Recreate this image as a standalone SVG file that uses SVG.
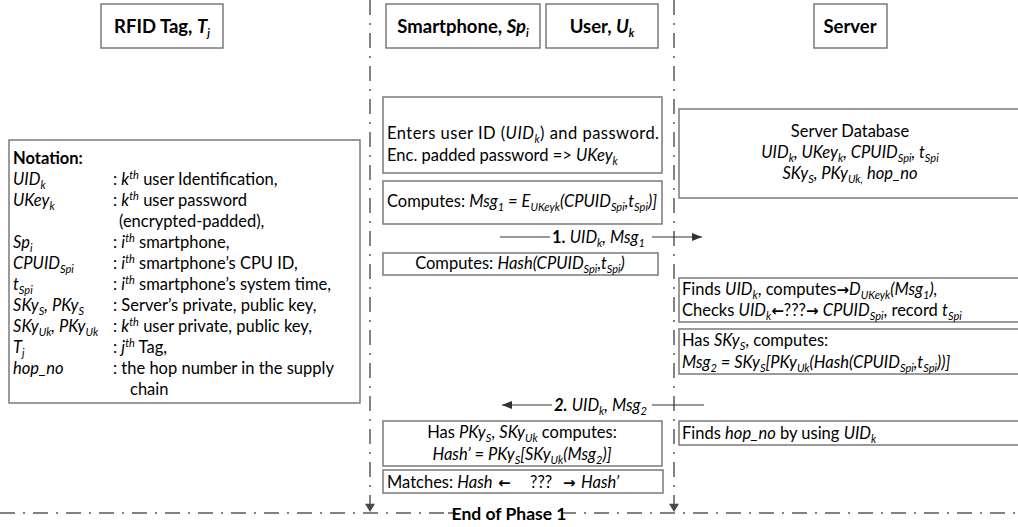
<svg xmlns="http://www.w3.org/2000/svg" width="1018" height="527" viewBox="0 0 1018 527">
  <style>
    text { font-family: Lato, "Liberation Sans", sans-serif; font-size: 16.5px; fill: #000; }
    .hd { font-size: 18.5px; font-weight: bold; }
    .i { font-style: italic; }
    .b { font-weight: bold; }
    .sb { font-size: 11px; baseline-shift: -3.5px; }
    .sp { font-size: 11px; baseline-shift: 6.5px; font-style: italic; }
    .ar { font-family: "DejaVu Sans", sans-serif; font-weight: bold; font-size: 15px; }
    .box { fill: #fff; stroke: #7a7a7a; stroke-width: 1.5; }
    .life { fill: none; stroke: #5a5a5a; stroke-width: 1.5; stroke-dasharray: 15 8 2 8; }
    .msg { fill: none; stroke: #333; stroke-width: 1.2; }
    .mid { text-anchor: middle; }
  </style>
  <defs>
    <marker id="head" viewBox="0 0 10 8" refX="10" refY="4" markerWidth="10" markerHeight="8" markerUnits="userSpaceOnUse" orient="auto">
      <path d="M0,0 L10,4 L0,8 z" fill="#333"/>
    </marker>
    <marker id="lifehead" viewBox="0 0 10 12" refX="10" refY="6" markerWidth="12" markerHeight="10" markerUnits="userSpaceOnUse" orient="auto">
      <path d="M0,0 L10,6 L0,12 z" fill="#4a4a4a"/>
    </marker>
  </defs>

  <rect width="1018" height="527" fill="#fff"/>

  <!-- connectors: lifelines and messages -->
  <g id="connectors">
    <line class="life" x1="370" y1="0" x2="370" y2="512" marker-end="url(#lifehead)"/>
    <line class="life" x1="674" y1="0" x2="674" y2="512" marker-end="url(#lifehead)"/>
    <g id="msg1">
      <line class="msg" x1="500" y1="237" x2="702" y2="237" marker-end="url(#head)"/>
      <rect x="550" y="228" width="102" height="17" fill="#fff"/>
      <text x="552" y="243"><tspan class="b">1.</tspan> <tspan class="i">UID<tspan class="sb">k</tspan>, Msg<tspan class="sb">1</tspan></tspan></text>
    </g>
    <g id="msg2">
      <line class="msg" x1="704" y1="405" x2="502" y2="405" marker-end="url(#head)"/>
      <rect x="552" y="396" width="100" height="17" fill="#fff"/>
      <text x="554" y="411"><tspan class="b i">2.</tspan> <tspan class="i">UID<tspan class="sb">k</tspan>, Msg<tspan class="sb">2</tspan></tspan></text>
    </g>
  </g>

  <!-- end-of-phase divider -->
  <g id="phase-end">
    <line class="life" x1="0" y1="513" x2="1018" y2="513"/>
    <rect x="448" y="503" width="122" height="22" fill="#fff"/>
    <line x1="448" y1="513" x2="456" y2="513" stroke="#5a5a5a" stroke-width="1.5"/>
    <line x1="562" y1="513" x2="570" y2="513" stroke="#5a5a5a" stroke-width="1.5"/>
    <text class="mid b" x="509" y="520" style="font-size:17.5px">End of Phase 1</text>
  </g>

  <!-- lane headers -->
  <g id="hdr-tag">
    <rect class="box" x="101" y="4" width="122" height="44"/>
    <text class="hd mid" x="162" y="33">RFID Tag, <tspan class="i">T<tspan class="sb">j</tspan></tspan></text>
  </g>
  <g id="hdr-phone">
    <rect class="box" x="386" y="4" width="154" height="44"/>
    <text class="hd mid" x="463" y="33">Smartphone, <tspan class="i">Sp<tspan class="sb">i</tspan></tspan></text>
  </g>
  <g id="hdr-user">
    <rect class="box" x="546" y="4" width="112" height="44"/>
    <text class="hd mid" x="602" y="33">User, <tspan class="i">U<tspan class="sb">k</tspan></tspan></text>
  </g>
  <g id="hdr-server">
    <rect class="box" x="814" y="4" width="73" height="44"/>
    <text class="hd mid" x="850" y="33">Server</text>
  </g>

  <!-- notation legend -->
  <g id="notation">
    <rect class="box" x="9" y="140" width="351" height="263"/>
    <text class="b" x="13" y="164">Notation:</text>
    <text x="13" y="185"><tspan class="i">UID<tspan class="sb">k</tspan></tspan><tspan x="113">: <tspan class="i">k</tspan><tspan class="sp">th</tspan> user Identification,</tspan></text>
    <text x="13" y="206"><tspan class="i">UKey<tspan class="sb">k</tspan></tspan><tspan x="113">: <tspan class="i">k</tspan><tspan class="sp">th</tspan> user password</tspan></text>
    <text x="119" y="227">(encrypted-padded),</text>
    <text x="13" y="248"><tspan class="i">Sp<tspan class="sb">i</tspan></tspan><tspan x="113">: <tspan class="i">i</tspan><tspan class="sp">th</tspan> smartphone,</tspan></text>
    <text x="13" y="269"><tspan class="i">CPUID<tspan class="sb">Spi</tspan></tspan><tspan x="113">: <tspan class="i">i</tspan><tspan class="sp">th</tspan> smartphone’s CPU ID,</tspan></text>
    <text x="13" y="290"><tspan class="i">t<tspan class="sb">Spi</tspan></tspan><tspan x="113">: <tspan class="i">i</tspan><tspan class="sp">th</tspan> smartphone’s system time,</tspan></text>
    <text x="13" y="311"><tspan class="i">SKy<tspan class="sb">S</tspan>, PKy<tspan class="sb">S</tspan></tspan><tspan x="113">: Server’s private, public key,</tspan></text>
    <text x="13" y="332"><tspan class="i">SKy<tspan class="sb">Uk</tspan>, PKy<tspan class="sb">Uk</tspan></tspan><tspan x="113">: <tspan class="i">k</tspan><tspan class="sp">th</tspan> user private, public key,</tspan></text>
    <text x="13" y="353"><tspan class="i">T<tspan class="sb">j</tspan></tspan><tspan x="113">: <tspan class="i">j</tspan><tspan class="sp">th</tspan> Tag,</tspan></text>
    <text x="13" y="374"><tspan class="i">hop_no</tspan><tspan x="113">: the hop number in the supply</tspan></text>
    <text x="130" y="395">chain</text>
  </g>

  <!-- smartphone / user steps -->
  <g id="step-login">
    <rect class="box" x="383" y="97" width="279" height="76"/>
    <text x="387" y="139" textLength="272" lengthAdjust="spacing">Enters user ID (<tspan class="i">UID<tspan class="sb">k</tspan></tspan>) and password.</text>
    <text x="387" y="161">Enc. padded password =&gt; <tspan class="i">UKey<tspan class="sb">k</tspan></tspan></text>
  </g>
  <g id="step-msg1">
    <rect class="box" x="383" y="181" width="279" height="43"/>
    <text x="387" y="207">Computes: <tspan class="i">Msg<tspan class="sb">1</tspan> = E<tspan class="sb">UKeyk</tspan>(CPUID<tspan class="sb">Spi</tspan>,t<tspan class="sb">Spi</tspan>)]</tspan></text>
  </g>
  <g id="step-hash">
    <rect class="box" x="383" y="253" width="275" height="22"/>
    <text class="mid" x="520" y="269">Computes: <tspan class="i">Hash(CPUID<tspan class="sb">Spi</tspan>,t<tspan class="sb">Spi</tspan>)</tspan></text>
  </g>
  <g id="step-verify">
    <rect class="box" x="383" y="421" width="279" height="45"/>
    <text class="mid" x="522" y="438">Has <tspan class="i">PKy<tspan class="sb">S</tspan></tspan>, <tspan class="i">SKy<tspan class="sb">Uk</tspan></tspan> computes:</text>
    <text class="mid" x="522" y="460"><tspan class="i">Hash’ = PKy<tspan class="sb">S</tspan>[SKy<tspan class="sb">Uk</tspan>(Msg<tspan class="sb">2</tspan>)]</tspan></text>
  </g>
  <g id="step-match">
    <rect class="box" x="383" y="470" width="280" height="23"/>
    <text x="387" y="488">Matches: <tspan class="i">Hash</tspan></text>
    <text class="ar" x="498" y="488">←</text>
    <text x="530" y="488">???</text>
    <text class="ar" x="563" y="488">→</text>
    <text class="i" x="581" y="488">Hash’</text>
  </g>

  <!-- server steps -->
  <g id="srv-db">
    <rect class="box" x="679" y="109" width="400" height="89"/>
    <text class="mid" x="850" y="137">Server Database</text>
    <text class="mid i" x="850" y="158">UID<tspan class="sb">k</tspan>, UKey<tspan class="sb">k</tspan>, CPUID<tspan class="sb">Spi</tspan>, t<tspan class="sb">Spi</tspan></text>
    <text class="mid i" x="850" y="179">SKy<tspan class="sb">S</tspan>, PKy<tspan class="sb">Uk,</tspan> hop_no</text>
  </g>
  <g id="srv-check">
    <rect class="box" x="679" y="278" width="400" height="44"/>
    <text x="682" y="295">Finds <tspan class="i">UID<tspan class="sb">k</tspan></tspan>, computes<tspan class="ar">→</tspan><tspan class="i">D<tspan class="sb">UKeyk</tspan>(Msg<tspan class="sb">1</tspan>),</tspan></text>
    <text x="682" y="316">Checks <tspan class="i">UID<tspan class="sb">k</tspan></tspan><tspan class="ar">←</tspan>???<tspan class="ar">→</tspan> <tspan class="i">CPUID<tspan class="sb">Spi</tspan></tspan>, record <tspan class="i">t<tspan class="sb">Spi</tspan></tspan></text>
  </g>
  <g id="srv-msg2">
    <rect class="box" x="679" y="329" width="400" height="45"/>
    <text x="682" y="346">Has <tspan class="i">SKy<tspan class="sb">S</tspan></tspan>, computes:</text>
    <text x="682" y="368"><tspan class="i">Msg<tspan class="sb">2</tspan> = SKy<tspan class="sb">S</tspan>[PKy<tspan class="sb">Uk</tspan>(Hash(CPUID<tspan class="sb">Spi</tspan>,t<tspan class="sb">Spi</tspan>))]</tspan></text>
  </g>
  <g id="srv-hop">
    <rect class="box" x="679" y="421" width="400" height="24"/>
    <text x="682" y="439">Finds <tspan class="i">hop_no</tspan> by using <tspan class="i">UID<tspan class="sb">k</tspan></tspan></text>
  </g>
</svg>
